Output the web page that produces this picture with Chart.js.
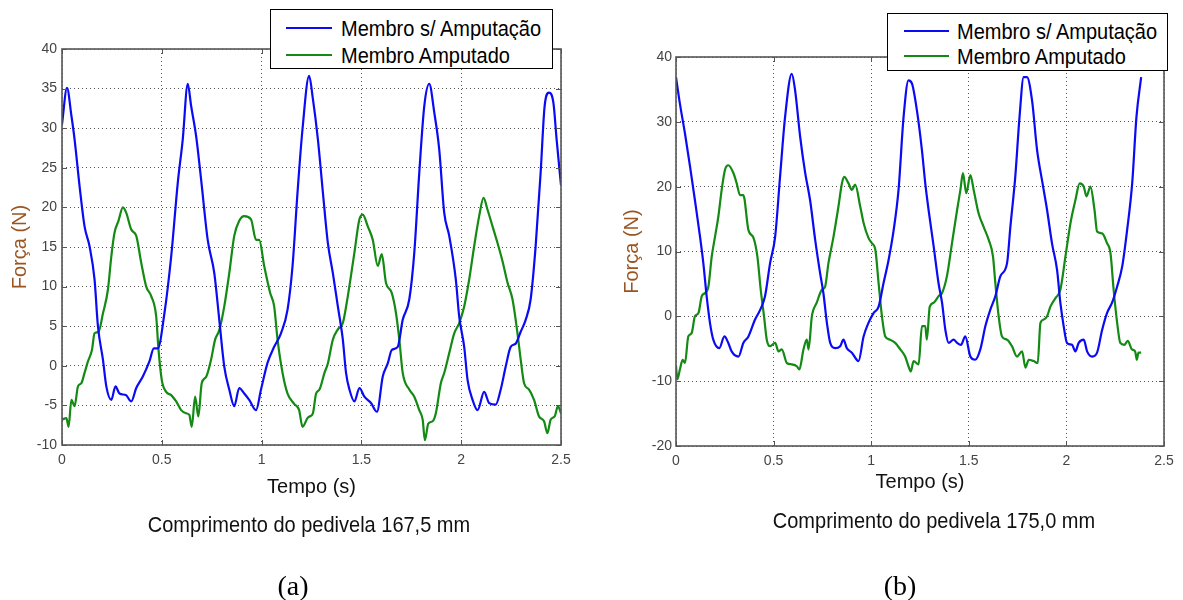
<!DOCTYPE html>
<html>
<head>
<meta charset="utf-8">
<script src="https://cdn.jsdelivr.net/npm/chart.js@4.4.1/dist/chart.umd.min.js"></script>
<style>
  html, body { margin: 0; padding: 0; background: #fff; }
  body { width: 1183px; height: 600px; position: relative; overflow: hidden; font-family: "Liberation Sans", Arial, sans-serif; }
  canvas { position: absolute; top: 0; }
  .legend { position: absolute; background: #fff; border: 1px solid #000; box-sizing: border-box; z-index: 5; }
  .row { position: absolute; height: 24px; line-height: 24px; font-size: 20px; color: #000; white-space: nowrap; transform: scaleY(1.08); transform-origin: left center; }
  .sw { position: absolute; height: 2.5px; }
  .cap { position: absolute; width: 500px; text-align: center; font-size: 20px; line-height: 24px; color: #111; white-space: nowrap; transform: scaleY(1.1); }
  .sub { position: absolute; width: 100px; text-align: center; font-family: "Liberation Serif", "Times New Roman", serif; font-size: 28px; line-height: 30px; color: #000; }
</style>
</head>
<body>
<canvas id="ca" width="600" height="600" style="left:0px"></canvas>
<canvas id="cb" width="583" height="600" style="left:600px"></canvas>
<div id="overlay"></div>
<script>
// ---------- DATA ----------
const seriesLabels = ['Membro s/ Amputação', 'Membro Amputado'];
const xTicks = [0, 0.5, 1, 1.5, 2, 2.5];
const aYTicks = [-10, -5, 0, 5, 10, 15, 20, 25, 30, 35, 40];
const bYTicks = [-20, -10, 0, 10, 20, 30, 40];
const captions = ['Comprimento do pedivela 167,5 mm', 'Comprimento do pedivela 175,0 mm'];
const panelLetters = ['(a)', '(b)'];
const xTitle = 'Tempo (s)';
const yTitle = 'Força (N)';

// (a) Membro s/ Amputação  [tempo, força]
const aBlue = [[0,30.5],[0.025,35.1],[0.047,31.6],[0.063,28.6],[0.088,22.7],[0.113,17.6],[0.138,15.1],[0.163,10.9],[0.18,5.0],[0.205,0.8],[0.222,-2.6],[0.247,-4.3],[0.268,-2.6],[0.288,-3.5],[0.32,-3.7],[0.347,-4.5],[0.372,-2.8],[0.405,-1.35],[0.438,0.55],[0.46,2.2],[0.48,2.2],[0.513,6.6],[0.547,13.8],[0.58,23.1],[0.605,28.6],[0.63,35.6],[0.647,32.8],[0.672,29.0],[0.697,23.5],[0.73,15.9],[0.763,11.7],[0.788,5.8],[0.813,-0.1],[0.838,-3.0],[0.863,-5.1],[0.888,-2.8],[0.913,-3.5],[0.938,-4.3],[0.972,-5.6],[0.997,-3.0],[1.03,0.4],[1.063,2.4],[1.097,4.1],[1.13,7.1],[1.155,12.6],[1.18,21.9],[1.205,29.9],[1.238,36.6],[1.257,33.7],[1.282,28.6],[1.307,21.9],[1.332,15.5],[1.357,11.7],[1.382,7.5],[1.407,3.3],[1.423,-0.9],[1.44,-3.0],[1.465,-4.5],[1.49,-2.8],[1.515,-3.9],[1.548,-4.7],[1.578,-5.8],[1.607,-1.35],[1.632,0.3],[1.652,2.0],[1.682,2.4],[1.707,5.8],[1.74,8.4],[1.765,14.3],[1.79,24.4],[1.815,32.8],[1.84,35.6],[1.865,32.0],[1.89,27.3],[1.915,19.3],[1.94,16.4],[1.973,10.9],[1.99,6.2],[2.015,2.4],[2.032,-1.8],[2.057,-4.3],[2.082,-5.6],[2.115,-3.3],[2.14,-4.7],[2.173,-4.9],[2.198,-3.0],[2.223,-0.1],[2.248,2.4],[2.273,2.8],[2.298,4.3],[2.323,5.8],[2.348,8.4],[2.373,15.1],[2.398,24.4],[2.418,32.8],[2.44,34.5],[2.462,33.2],[2.478,28.6],[2.5,22.8]];

// (a) Membro Amputado
const aGreen = [[0,-6.8],[0.022,-6.6],[0.033,-7.7],[0.047,-4.3],[0.063,-5.1],[0.08,-2.6],[0.097,-2.2],[0.113,-0.9],[0.13,0.55],[0.15,2.0],[0.163,4.1],[0.183,4.3],[0.205,6.6],[0.23,9.6],[0.247,13.8],[0.263,16.8],[0.283,18.3],[0.305,20.0],[0.322,19.3],[0.347,17.2],[0.372,16.4],[0.397,13.0],[0.422,10.0],[0.447,8.8],[0.472,6.2],[0.483,2.2],[0.5,-1.8],[0.522,-3.3],[0.547,-3.7],[0.572,-4.5],[0.597,-5.6],[0.622,-6.0],[0.638,-6.2],[0.65,-7.7],[0.667,-3.9],[0.683,-6.4],[0.7,-2.2],[0.722,-1.4],[0.747,0.8],[0.767,3.3],[0.788,4.5],[0.813,7.5],[0.838,11.7],[0.863,16.4],[0.888,18.3],[0.913,18.9],[0.947,18.5],[0.972,15.9],[0.988,15.9],[1.013,12.6],[1.043,9.2],[1.063,7.5],[1.08,3.3],[1.105,-0.9],[1.13,-3.5],[1.163,-4.8],[1.188,-5.6],[1.205,-7.7],[1.23,-6.6],[1.24,-6.4],[1.257,-6.0],[1.273,-3.5],[1.29,-3.0],[1.315,-0.9],[1.332,0.3],[1.357,3.3],[1.382,4.6],[1.407,5.4],[1.432,8.8],[1.465,14.3],[1.49,18.5],[1.507,19.1],[1.532,17.6],[1.557,15.9],[1.582,12.6],[1.602,14.1],[1.623,10.5],[1.652,9.2],[1.673,6.7],[1.69,3.3],[1.707,-0.9],[1.74,-3.0],[1.765,-3.9],[1.79,-5.6],[1.807,-6.8],[1.818,-9.4],[1.835,-7.3],[1.857,-7.0],[1.873,-6.0],[1.898,-2.2],[1.915,-0.9],[1.94,1.6],[1.965,4.1],[1.99,5.4],[2.015,7.5],[2.04,10.9],[2.065,15.1],[2.09,18.9],[2.112,21.2],[2.132,19.7],[2.157,17.6],[2.182,15.5],[2.207,13.2],[2.232,10.5],[2.257,8.4],[2.282,4.1],[2.298,0.8],[2.315,-2.2],[2.34,-3.0],[2.365,-4.3],[2.39,-6.4],[2.415,-7.0],[2.432,-8.5],[2.448,-6.8],[2.468,-6.4],[2.485,-5.1],[2.5,-6.0]];

// (b) Membro s/ Amputação
const bBlue = [[0,36.9],[0.02,32.8],[0.046,28.2],[0.072,23.1],[0.097,17.9],[0.123,12.3],[0.14,8.2],[0.157,3.1],[0.174,-1.0],[0.191,-3.6],[0.222,-4.9],[0.248,-3.1],[0.268,-4.1],[0.285,-5.4],[0.32,-6.2],[0.345,-4.1],[0.371,-3.1],[0.405,-0.5],[0.431,1.0],[0.456,3.1],[0.482,8.2],[0.508,12.3],[0.533,21.5],[0.559,30.8],[0.593,37.4],[0.61,34.9],[0.636,27.7],[0.662,22.1],[0.687,17.9],[0.713,11.8],[0.738,6.7],[0.755,3.6],[0.773,-1.0],[0.79,-4.1],[0.815,-4.9],[0.841,-4.6],[0.858,-3.6],[0.875,-4.9],[0.901,-5.6],[0.935,-6.9],[0.961,-3.1],[0.986,-1.0],[1.012,0.5],[1.038,1.5],[1.063,5.1],[1.089,8.7],[1.115,13.3],[1.14,19.5],[1.166,30.8],[1.191,36.4],[1.209,35.9],[1.234,31.8],[1.26,25.6],[1.277,20.5],[1.294,16.4],[1.32,10.8],[1.345,5.1],[1.363,2.1],[1.38,-2.1],[1.397,-4.1],[1.422,-3.6],[1.44,-4.1],[1.46,-4.4],[1.482,-3.1],[1.508,-6.2],[1.533,-6.7],[1.559,-5.1],[1.585,-1.5],[1.61,1.0],[1.636,3.1],[1.662,6.2],[1.696,8.2],[1.713,13.8],[1.738,21.5],[1.76,30.8],[1.781,36.9],[1.798,36.9],[1.824,33.3],[1.85,25.6],[1.875,21.0],[1.901,16.4],[1.926,11.3],[1.952,7.2],[1.969,2.1],[1.986,-1.5],[2.003,-4.1],[2.029,-4.4],[2.046,-5.4],[2.063,-4.1],[2.089,-3.6],[2.106,-5.4],[2.132,-6.2],[2.157,-5.6],[2.183,-2.1],[2.208,0.5],[2.234,2.1],[2.26,4.6],[2.286,7.7],[2.311,13.3],[2.337,20.5],[2.359,30.8],[2.383,36.9]];

// (b) Membro Amputado
const bGreen = [[0,-7.7],[0.007,-9.7],[0.02,-8.2],[0.034,-6.7],[0.046,-7.2],[0.063,-3.1],[0.08,-2.6],[0.097,0],[0.115,0.5],[0.132,3.1],[0.149,3.6],[0.166,4.6],[0.183,9.2],[0.2,12.3],[0.217,15.4],[0.234,19.5],[0.251,22.6],[0.268,23.3],[0.294,22.1],[0.311,20.5],[0.328,18.7],[0.345,18.7],[0.371,13.3],[0.397,12.1],[0.417,9.2],[0.434,4.1],[0.451,0],[0.465,-3.6],[0.482,-4.6],[0.508,-4.1],[0.525,-5.4],[0.542,-5.1],[0.568,-7.2],[0.593,-7.4],[0.619,-7.7],[0.632,-8.2],[0.653,-5.1],[0.67,-3.6],[0.679,-5.1],[0.696,0],[0.721,2.1],[0.747,4.1],[0.764,4.6],[0.781,8.2],[0.807,12.3],[0.832,16.9],[0.85,20.5],[0.862,21.5],[0.884,20.5],[0.901,19.5],[0.918,20.3],[0.944,16.9],[0.961,14.4],[0.986,12.1],[1.003,11.3],[1.021,10.3],[1.038,5.1],[1.055,0],[1.072,-3.1],[1.097,-3.6],[1.123,-4.1],[1.149,-5.1],[1.174,-6.2],[1.191,-7.7],[1.203,-8.5],[1.217,-6.9],[1.243,-7.4],[1.26,-1.5],[1.277,-1.5],[1.285,-3.6],[1.3,1.5],[1.32,2.1],[1.345,3.1],[1.363,3.6],[1.388,6.2],[1.414,11.3],[1.44,16.4],[1.457,19.5],[1.47,22.1],[1.487,19.0],[1.508,21.8],[1.525,19.5],[1.55,15.9],[1.576,13.8],[1.602,11.8],[1.624,9.2],[1.636,5.1],[1.653,0],[1.67,-3.1],[1.696,-3.6],[1.721,-4.6],[1.747,-6.2],[1.773,-5.4],[1.79,-7.9],[1.807,-6.7],[1.832,-6.9],[1.853,-7.2],[1.867,-1.0],[1.884,-0.5],[1.901,0],[1.918,1.5],[1.944,2.8],[1.969,4.1],[1.995,9.2],[2.021,14.4],[2.046,17.9],[2.068,20.5],[2.089,20.0],[2.103,18.5],[2.123,20.0],[2.144,16.4],[2.157,13.1],[2.183,12.8],[2.208,11.3],[2.226,9.7],[2.242,4.1],[2.26,-1.0],[2.276,-4.1],[2.297,-4.4],[2.314,-3.8],[2.336,-5.1],[2.352,-5.4],[2.361,-6.7],[2.369,-5.6],[2.383,-5.6]];

const seriesColors = ['#0a0af5', '#138a13'];

// ---------- CHARTS ----------
const framePlugin = {
  id: 'frame',
  afterDraw(chart) {
    const {ctx, chartArea: a, scales} = chart;
    ctx.save();
    ctx.strokeStyle = '#555';
    ctx.lineWidth = 1;
    const L = 5;
    const seg = (x1, y1, x2, y2) => { ctx.beginPath(); ctx.moveTo(x1, y1); ctx.lineTo(x2, y2); ctx.stroke(); };
    scales.x.ticks.forEach(t => {
      const px = Math.round(scales.x.getPixelForValue(t.value)) + 0.5;
      seg(px, a.bottom, px, a.bottom - L);
      seg(px, a.top, px, a.top + L);
    });
    scales.y.ticks.forEach(t => {
      const py = Math.round(scales.y.getPixelForValue(t.value)) + 0.5;
      seg(a.left, py, a.left + L, py);
      seg(a.right, py, a.right - L, py);
    });
    ctx.lineWidth = 1.6;
    ctx.strokeRect(a.left, a.top, a.right - a.left, a.bottom - a.top);
    ctx.restore();
  }
};

function toPts(arr) { return arr.map(p => ({x: p[0], y: p[1]})); }

function makeChart(id, blue, green, yTicks, cfg) {
  return new Chart(document.getElementById(id), {
    type: 'line',
    data: {
      datasets: [
        {label: seriesLabels[0], data: toPts(blue), borderColor: seriesColors[0], borderWidth: 2.2, pointRadius: 0, cubicInterpolationMode: 'monotone', fill: false},
        {label: seriesLabels[1], data: toPts(green), borderColor: seriesColors[1], borderWidth: 2.2, pointRadius: 0, cubicInterpolationMode: 'monotone', fill: false}
      ]
    },
    options: {
      responsive: false,
      animation: false,
      events: [],
      layout: {padding: cfg.padding},
      plugins: {legend: {display: false}, tooltip: {enabled: false}},
      scales: {
        x: {
          type: 'linear',
          min: xTicks[0], max: xTicks[xTicks.length - 1],
          afterBuildTicks: s => { s.ticks = xTicks.map(v => ({value: v})); },
          afterFit: s => { s.height = cfg.xHeight; },
          ticks: {font: {size: 14, family: '"Liberation Sans", Arial'}, color: '#444', padding: 7, maxRotation: 0, autoSkip: false, callback: v => String(v)},
          grid: {color: '#555', lineWidth: 1, drawTicks: false},
          border: {display: false, dash: [1, 3]},
          title: {display: true, text: xTitle, font: {size: 20, family: '"Liberation Sans", Arial'}, color: '#111', padding: {top: 0, bottom: cfg.xTitlePad}}
        },
        y: {
          type: 'linear',
          min: yTicks[0], max: yTicks[yTicks.length - 1],
          afterBuildTicks: s => { s.ticks = yTicks.map(v => ({value: v})); },
          afterFit: s => { s.width = cfg.yWidth; },
          ticks: {font: {size: 14, family: '"Liberation Sans", Arial'}, color: '#444', padding: cfg.yTickPad, autoSkip: false, callback: v => String(v)},
          grid: {color: '#555', lineWidth: 1, drawTicks: false},
          border: {display: false, dash: [1, 3]},
          title: {display: true, text: yTitle, font: {size: 20, family: '"Liberation Sans", Arial'}, color: '#9a5520', padding: {top: cfg.yTitlePad, bottom: 0}}
        }
      }
    },
    plugins: [framePlugin]
  });
}

makeChart('ca', aBlue, aGreen, aYTicks, {padding: {left: 0, top: 49, right: 39, bottom: 100}, xHeight: 55, yWidth: 62, xTitlePad: 1, yTitlePad: 8, yTickPad: 5});
makeChart('cb', bBlue, bGreen, bYTicks, {padding: {left: 0, top: 57, right: 19, bottom: 104}, xHeight: 50, yWidth: 76, xTitlePad: 2, yTitlePad: 20, yTickPad: 4});

// ---------- HTML legends & captions ----------
const overlay = document.getElementById('overlay');
function addLegend(box, swX1, swX2, textX, rowYs) {
  const lg = document.createElement('div');
  lg.className = 'legend';
  lg.style.left = box[0] + 'px'; lg.style.top = box[1] + 'px';
  lg.style.width = (box[2] - box[0]) + 'px'; lg.style.height = (box[3] - box[1]) + 'px';
  seriesLabels.forEach((lab, i) => {
    const sw = document.createElement('div');
    sw.className = 'sw';
    sw.style.background = seriesColors[i];
    sw.style.left = (swX1 - box[0]) + 'px';
    sw.style.width = (swX2 - swX1) + 'px';
    sw.style.top = (rowYs[i] - box[1] - 1.5) + 'px';
    lg.appendChild(sw);
    const r = document.createElement('div');
    r.className = 'row';
    r.textContent = lab;
    r.style.left = (textX - box[0]) + 'px';
    r.style.top = (rowYs[i] - box[1] - 12) + 'px';
    lg.appendChild(r);
  });
  overlay.appendChild(lg);
}
addLegend([270, 9, 553, 69], 285, 331, 340, [27, 54]);
addLegend([887, 13, 1168, 71], 903, 948, 956, [30, 55]);

function addText(cls, text, cx, cy, w, h) {
  const d = document.createElement('div');
  d.className = cls;
  d.textContent = text;
  d.style.left = (cx - w / 2) + 'px';
  d.style.top = (cy - h / 2) + 'px';
  overlay.appendChild(d);
}
addText('cap', captions[0], 309, 524, 500, 24);
addText('cap', captions[1], 934, 520, 500, 24);
addText('sub', panelLetters[0], 293, 586, 100, 30);
addText('sub', panelLetters[1], 900, 586, 100, 30);
</script>
</body>
</html>
